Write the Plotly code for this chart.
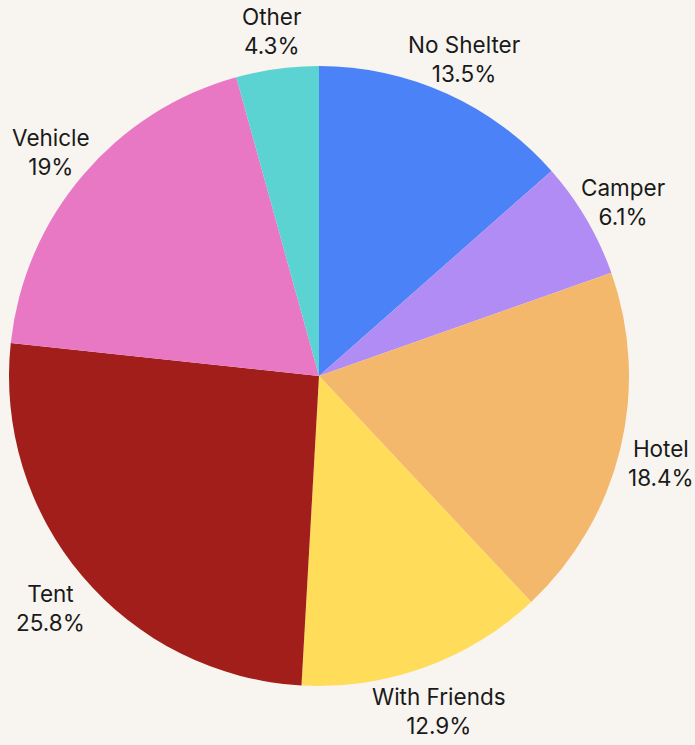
import math
import plotly.graph_objects as go

labels = ["No Shelter", "Camper", "Hotel", "With Friends", "Tent", "Vehicle", "Other"]
values = [13.5, 6.1, 18.4, 12.9, 25.8, 19.0, 4.3]
colors = ["#4C82F7", "#B18CF4", "#F4B86D", "#FFDD5A", "#A11E1A", "#E878C4", "#5BD3D3"]

FONT = "Inter, sans-serif"
TEXT_COLOR = "#1a1a1a"
BG = "#F8F5F0"

fig = go.Figure(go.Pie(
    labels=labels,
    values=values,
    marker=dict(colors=colors),
    sort=False,
    direction="clockwise",
    rotation=0,
    textinfo="none",
    showlegend=False,
    hoverinfo="label+percent",
    domain=dict(x=[0, 1], y=[0, 1]),
))

# Labels centred just outside each slice, along the slice's middle angle
total = sum(values)
label_radius = 0.5 * 352 / 310  # in paper units (pie radius = 0.5)
annotations = []
cum = 0.0
for lab, v in zip(labels, values):
    mid = (cum + v / 2) / total * 2 * math.pi  # clockwise from 12 o'clock
    cum += v
    pct = f"{v / total * 100:.3g}%"
    annotations.append(dict(
        x=0.5 + label_radius * math.sin(mid),
        y=0.5 + label_radius * math.cos(mid),
        xref="paper", yref="paper",
        yshift=-4,
        text=f"{lab}<br>{pct}",
        showarrow=False,
        xanchor="center", yanchor="middle",
        align="center",
        font=dict(family=FONT, size=22.5, color=TEXT_COLOR),
    ))

fig.update_layout(
    width=695,
    height=745,
    paper_bgcolor=BG,
    plot_bgcolor=BG,
    margin=dict(l=9, r=66, t=66, b=59, autoexpand=False),
    font=dict(family=FONT, size=22.5, color=TEXT_COLOR),
    annotations=annotations,
)

fig.write_html(
    "out.html",
    config={"displayModeBar": False},
    post_script="document.body.style.margin='0';document.body.style.background='#F8F5F0';",
)
